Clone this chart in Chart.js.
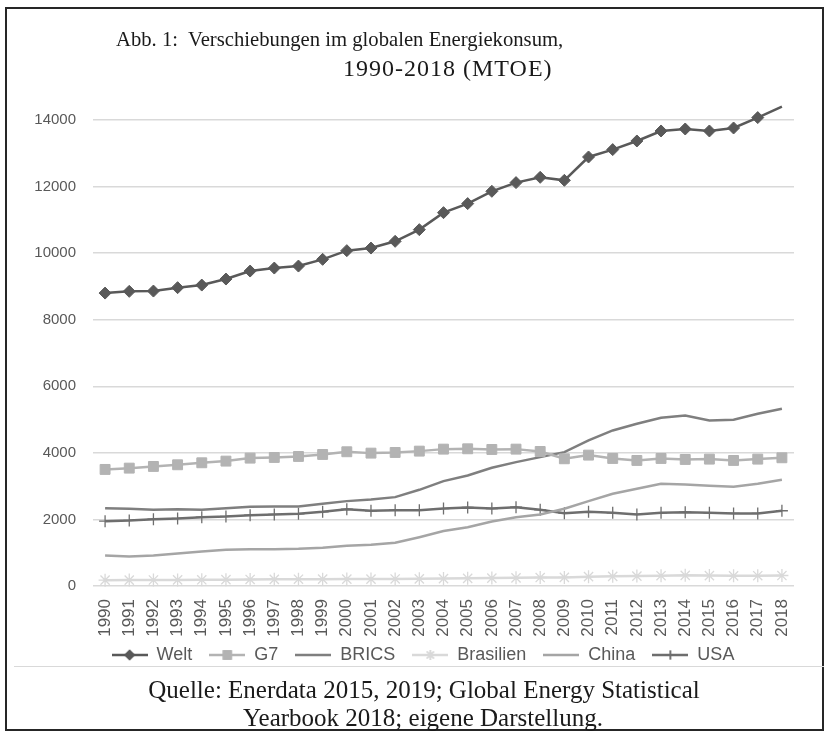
<!DOCTYPE html>
<html lang="de">
<head>
<meta charset="utf-8">
<script src="https://cdn.jsdelivr.net/npm/chart.js@4/dist/chart.umd.min.js"></script>
<style>
  html, body { margin: 0; padding: 0; background: #fff; }
  #page { position: relative; width: 832px; height: 737px; overflow: hidden; }
  #frame {
    position: absolute; left: 5px; top: 7px; width: 819px; height: 724px;
    border: 2px solid #262626; box-sizing: border-box;
  }
  #sep { position: absolute; left: 14px; top: 666px; width: 810px; height: 1px; background: #d9d9d9; }
  .serif { position: absolute; font-family: "Liberation Serif", "Times New Roman", serif; color: #1a1a1a; white-space: nowrap; }
  #title1 { left: 116px; top: 26px; font-size: 22px; transform: scaleX(0.94); transform-origin: left center; }
  #title2 { left: 343px; top: 55px; font-size: 24px; letter-spacing: 1px; }
  #cap1 { left: 0; width: 848px; text-align: center; top: 676px; font-size: 25px; }
  #cap2 { left: 0; width: 846px; text-align: center; top: 704px; font-size: 25px; }
  #chartWrap { position: absolute; left: 0; top: 0; width: 832px; height: 691px; }
</style>
</head>
<body>
<div id="page">
  <div id="chartWrap"><canvas id="chartEnergie"></canvas></div>
  <div id="frame"></div>
  <div id="sep"></div>
  <div class="serif" id="title1">Abb. 1:&nbsp; Verschiebungen im globalen Energiekonsum,</div>
  <div class="serif" id="title2">1990-2018 (MTOE)</div>
  <div class="serif" id="cap1">Quelle: Enerdata 2015, 2019; Global Energy Statistical</div>
  <div class="serif" id="cap2">Yearbook 2018; eigene Darstellung.</div>
</div>
<script>
const jahre = ['1990', '1991', '1992', '1993', '1994', '1995', '1996', '1997', '1998', '1999',
  '2000', '2001', '2002', '2003', '2004', '2005', '2006', '2007', '2008', '2009',
  '2010', '2011', '2012', '2013', '2014', '2015', '2016', '2017', '2018'];

const welt = [8800, 8852, 8861, 8963, 9041, 9222, 9462, 9552, 9612, 9814,
  10075, 10153, 10355, 10706, 11217, 11488, 11858, 12119, 12278, 12188,
  12889, 13110, 13370, 13670, 13730, 13670, 13760, 14072, 14403];

const g7 = [3502, 3541, 3592, 3642, 3702, 3752, 3842, 3862, 3892, 3952,
  4033, 3992, 4012, 4052, 4112, 4122, 4102, 4112, 4042, 3822,
  3932, 3832, 3772, 3832, 3802, 3812, 3772, 3812, 3852];

const brics = [2339, 2319, 2289, 2309, 2289, 2339, 2379, 2389, 2389, 2470,
  2550, 2600, 2670, 2890, 3150, 3321, 3552, 3722, 3872, 4022,
  4373, 4674, 4875, 5056, 5125, 4974, 4995, 5176, 5326];

const brasilien = [175, 178, 180, 183, 186, 190, 196, 200, 204, 205,
  207, 208, 212, 215, 222, 230, 238, 245, 255, 258,
  280, 290, 298, 310, 320, 312, 305, 310, 315];

const china = [917, 887, 917, 977, 1037, 1088, 1106, 1106, 1118, 1148,
  1208, 1238, 1298, 1467, 1650, 1767, 1939, 2068, 2149, 2320,
  2550, 2771, 2922, 3072, 3051, 3012, 2982, 3072, 3192];

const usa = [1948, 1969, 2008, 2029, 2068, 2089, 2128, 2149, 2170, 2230,
  2308, 2260, 2278, 2278, 2325, 2359, 2329, 2369, 2290, 2188,
  2230, 2200, 2149, 2200, 2218, 2200, 2179, 2179, 2260];

const yTicks = [0, 2000, 4000, 6000, 8000, 10000, 12000, 14000];

const serien = [
  { label: 'Welt', data: welt, color: '#595959', point: 'rectRot', radius: 6 },
  { label: 'G7', data: g7, color: '#b3b3b3', point: 'rect', radius: 7 },
  { label: 'BRICS', data: brics, color: '#7f7f7f', point: false, radius: 0 },
  { label: 'Brasilien', data: brasilien, color: '#d9d9d9', point: 'star', radius: 6.5 },
  { label: 'China', data: china, color: '#a5a5a5', point: false, radius: 0 },
  { label: 'USA', data: usa, color: '#6e6e6e', point: 'cross', radius: 6 },
];

const TICK_COLOR = '#595959';

// small line+marker swatch for the legend, like the Excel one
function legendSwatch(s) {
  const c = document.createElement('canvas');
  c.width = 36;
  c.height = 16;
  const ctx = c.getContext('2d');
  ctx.strokeStyle = s.color;
  ctx.lineWidth = 2.5;
  ctx.beginPath();
  ctx.moveTo(0, 8);
  ctx.lineTo(36, 8);
  ctx.stroke();
  if (s.point) {
    ctx.fillStyle = s.color;
    ctx.lineWidth = 1.5;
    Chart.helpers.drawPoint(ctx, { pointStyle: s.point, radius: s.radius - 1.5, rotation: 0, borderWidth: 1.5 }, 18, 8);
    ctx.fill();
    ctx.stroke();
  }
  return c;
}

// Excel puts the legend a bit right of centre and tight under the year labels
const legendShift = {
  id: 'legendShift',
  afterLayout(chart) {
    const lg = chart.legend;
    lg.left += 16;
    lg.right += 16;
    lg.top -= 9;
    lg.bottom -= 9;
  },
};

function renderEnergieChart() {
  const canvas = document.getElementById('chartEnergie');

  const datasets = serien.map((s) => ({
    label: s.label,
    data: s.data,
    borderColor: s.color,
    backgroundColor: s.color,
    borderWidth: 2.5,
    pointStyle: s.point,
    pointRadius: s.radius,
    pointBorderWidth: s.point === 'star' || s.point === 'cross' ? 1.3 : 1,
    pointBorderColor: s.color,
    pointBackgroundColor: s.color,
    tension: 0,
    fill: false,
    clip: false,
  }));

  const swatches = serien.map(legendSwatch);

  new Chart(canvas.getContext('2d'), {
    type: 'line',
    data: { labels: jahre, datasets },
    plugins: [legendShift],
    options: {
      responsive: true,
      maintainAspectRatio: false,
      animation: false,
      layout: { padding: { left: 20, right: 38, top: 120, bottom: 8 } },
      scales: {
        x: {
          offset: true,
          grid: { display: false },
          border: { display: false },
          ticks: {
            color: TICK_COLOR,
            font: { family: 'Liberation Sans, Arial, sans-serif', size: 17 },
            maxRotation: 90,
            minRotation: 90,
            autoSkip: false,
            padding: 5,
          },
          afterFit: (scale) => { scale.height = 52; },
        },
        y: {
          min: 0,
          max: 14000,
          afterBuildTicks: (scale) => { scale.ticks = yTicks.map((v) => ({ value: v })); },
          grid: { color: '#d9d9d9', lineWidth: 1.5, drawTicks: false },
          border: { display: false },
          ticks: {
            color: TICK_COLOR,
            font: { family: 'Liberation Sans, Arial, sans-serif', size: 15 },
            padding: 17,
            callback: (value) => String(value),
          },
          afterFit: (scale) => { scale.width = 73; },
        },
      },
      plugins: {
        legend: {
          position: 'bottom',
          labels: {
            usePointStyle: true,
            pointStyleWidth: 36,
            color: TICK_COLOR,
            padding: 17,
            font: { family: 'Liberation Sans, Arial, sans-serif', size: 18 },
            generateLabels(chart) {
              return chart.data.datasets.map((ds, i) => ({
                text: ds.label,
                fillStyle: ds.borderColor,
                strokeStyle: ds.borderColor,
                fontColor: TICK_COLOR,
                lineWidth: 0,
                pointStyle: swatches[i],
                hidden: false,
                datasetIndex: i,
              }));
            },
          },
        },
        tooltip: { enabled: false },
      },
    },
  });
}

renderEnergieChart();
</script>
</body>
</html>
